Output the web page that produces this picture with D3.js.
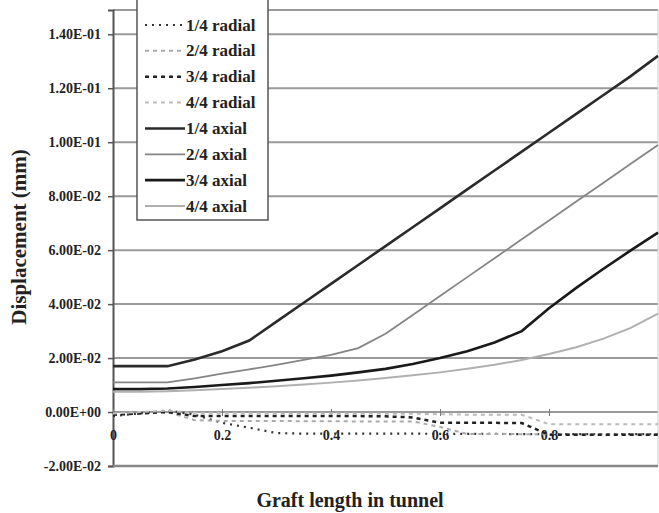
<!DOCTYPE html>
<html>
<head>
<meta charset="utf-8">
<script src="https://cdn.jsdelivr.net/npm/d3@7"></script>
<style>
body { margin: 0; background: #fff; }
text { font-family: "Liberation Serif", "Times New Roman", serif; font-weight: bold; fill: #222; }
</style>
</head>
<body>
<div id="chart"></div>
<script>

// graft length positions (fraction of tunnel)
var positions = [0, 0.05, 0.1, 0.15, 0.2, 0.25, 0.3, 0.35, 0.4, 0.45, 0.5,
                 0.55, 0.6, 0.65, 0.7, 0.75, 0.8, 0.85, 0.9, 0.95, 1.0];

var axial1 = [0.017, 0.017, 0.017, 0.0195, 0.0225, 0.0265, 0.0335, 0.0405, 0.0475, 0.0545, 0.0615,
              0.0685, 0.0755, 0.0825, 0.0895, 0.0965, 0.1035, 0.1105, 0.1175, 0.1245, 0.132];
var axial2 = [0.011, 0.011, 0.011, 0.0125, 0.0142, 0.0158, 0.0175, 0.0193, 0.0212, 0.0237, 0.029,
              0.036, 0.043, 0.05, 0.057, 0.064, 0.071, 0.078, 0.085, 0.092, 0.099];
var axial3 = [0.0085, 0.0085, 0.0087, 0.0093, 0.0100, 0.0107, 0.0116, 0.0125, 0.0135, 0.0147, 0.016,
              0.0178, 0.0200, 0.0225, 0.0258, 0.030, 0.0385, 0.046, 0.0531, 0.0599, 0.0665];
var axial4 = [0.0075, 0.0075, 0.0077, 0.0081, 0.0085, 0.009, 0.0096, 0.0102, 0.0109, 0.0117, 0.0126,
              0.0136, 0.0147, 0.016, 0.0175, 0.0193, 0.0215, 0.024, 0.0272, 0.0312, 0.0365];

var radial1 = [-0.0015, -0.0005, 0.0006, -0.001, -0.004, -0.0058, -0.0078, -0.008, -0.008, -0.008, -0.008,
               -0.008, -0.0081, -0.0081, -0.0081, -0.0082, -0.0082, -0.0082, -0.0082, -0.0082, -0.0082];
var radial2 = [-0.001, -0.0005, 0, -0.003, -0.0033, -0.0033, -0.0033, -0.0034, -0.0034, -0.0035, -0.0035,
               -0.0035, -0.0055, -0.0081, -0.0081, -0.0082, -0.0082, -0.0082, -0.0082, -0.0082, -0.0082];
var radial3 = [-0.001, -0.0005, 0, -0.0015, -0.0015, -0.0015, -0.0015, -0.0015, -0.0015, -0.0015, -0.0016,
               -0.002, -0.004, -0.004, -0.004, -0.0041, -0.0084, -0.0084, -0.0084, -0.0084, -0.0084];
var radial4 = [-0.0005, 0, 0.0005, -0.0003, -0.0004, -0.0004, -0.0005, -0.0005, -0.0005, -0.0005, -0.0006,
               -0.0006, -0.0008, -0.001, -0.001, -0.001, -0.0045, -0.0045, -0.0045, -0.0045, -0.0045];

var seriesNames = ["1/4 radial", "2/4 radial", "3/4 radial", "4/4 radial",
                   "1/4 axial", "2/4 axial", "3/4 axial", "4/4 axial"];

var yTicks = [-0.02, 0, 0.02, 0.04, 0.06, 0.08, 0.10, 0.12, 0.14];
var yTickLabels = ["-2.00E-02", "0.00E+00", "2.00E-02", "4.00E-02", "6.00E-02",
                   "8.00E-02", "1.00E-01", "1.20E-01", "1.40E-01"];
var xTicks = [0, 0.2, 0.4, 0.6, 0.8];
var xTickLabels = ["0", "0.2", "0.4", "0.6", "0.8"];

var seriesValues = [radial1, radial2, radial3, radial4, axial1, axial2, axial3, axial4];
var seriesStyle = [
  { color: "#333", width: 2.2, dash: "2,5" },
  { color: "#aaa", width: 2,   dash: "4,4" },
  { color: "#222", width: 2.5, dash: "4,4" },
  { color: "#bbb", width: 2,   dash: "4,4" },
  { color: "#2a2a2a", width: 2.6, dash: null },
  { color: "#858585", width: 1.8, dash: null },
  { color: "#1a1a1a", width: 2.6, dash: null },
  { color: "#b0b0b0", width: 2,   dash: null }
];

var width = 659, height = 513;
var plotLeft = 113, plotRight = 658, plotTop = 10, plotBottom = 466;

var svg = d3.select("#chart").append("svg")
    .attr("width", width)
    .attr("height", height);

var x = d3.scaleLinear().domain([0, 1]).range([plotLeft, plotRight]);
var y = d3.scaleLinear().domain([-0.02, 0.149]).range([plotBottom, plotTop]);

// gridlines
svg.append("g").selectAll("line")
    .data(yTicks)
  .enter().append("line")
    .attr("x1", plotLeft).attr("x2", plotRight)
    .attr("y1", function(d) { return y(d) }).attr("y2", function(d) { return y(d) })
    .attr("stroke", "#9a9a9a")
    .attr("stroke-width", 2);

// frame
svg.append("line").attr("x1", plotLeft).attr("x2", plotRight).attr("y1", plotTop).attr("y2", plotTop)
    .attr("stroke", "#999").attr("stroke-width", 2);
svg.append("line").attr("x1", plotRight).attr("x2", plotRight).attr("y1", plotTop).attr("y2", plotBottom)
    .attr("stroke", "#ccc").attr("stroke-width", 1);

// y axis with excel style labels
var yAxis = d3.axisLeft(y)
    .tickValues(yTicks)
    .tickSize(5)
    .tickFormat(function(d, i) { return yTickLabels[i] });

var gy = svg.append("g")
    .attr("transform", "translate(" + plotLeft + ",0)")
    .call(yAxis);
gy.select(".domain").attr("stroke", "#555").attr("stroke-width", 2);
gy.selectAll(".tick line").attr("stroke", "#555").attr("stroke-width", 1.5);
gy.selectAll(".tick text")
    .attr("x", -12)
    .style("font-family", "Liberation Serif, serif")
    .style("font-weight", "bold")
    .style("font-size", "14px")
    .attr("fill", "#333");

// x axis sits at zero
var xAxis = d3.axisBottom(x)
    .tickValues(xTicks)
    .tickSize(4)
    .tickFormat(function(d, i) { return xTickLabels[i] });

var gx = svg.append("g")
    .attr("transform", "translate(0," + y(0) + ")")
    .call(xAxis);
gx.select(".domain").remove();
gx.selectAll(".tick line").attr("stroke", "#777").attr("y1", -3);
gx.selectAll(".tick text")
    .attr("y", 18)
    .style("font-family", "Liberation Serif, serif")
    .style("font-weight", "bold")
    .style("font-size", "14px")
    .attr("fill", "#333");

// bottom line
svg.append("line").attr("x1", plotLeft).attr("x2", plotRight).attr("y1", plotBottom).attr("y2", plotBottom)
    .attr("stroke", "#888").attr("stroke-width", 2.5);

// series
var line = d3.line()
    .x(function(d, i) { return x(positions[i]) })
    .y(function(d) { return y(d) });

seriesValues.forEach(function(vals, i) {
  var st = seriesStyle[i];
  svg.append("path")
      .datum(vals)
      .attr("d", line)
      .attr("fill", "none")
      .attr("stroke", st.color)
      .attr("stroke-width", st.width)
      .attr("stroke-dasharray", st.dash);
});

// legend
var legend = svg.append("g");
legend.append("rect")
    .attr("x", 137).attr("y", -2)
    .attr("width", 131).attr("height", 222)
    .attr("fill", "#fff")
    .attr("stroke", "#555")
    .attr("stroke-width", 1.5);

var rowY = d3.scalePoint().domain(d3.range(seriesNames.length)).range([25, 206]);

seriesNames.forEach(function(name, i) {
  var st = seriesStyle[i];
  legend.append("line")
      .attr("x1", 145).attr("x2", 185)
      .attr("y1", rowY(i)).attr("y2", rowY(i))
      .attr("stroke", st.color)
      .attr("stroke-width", st.width)
      .attr("stroke-dasharray", st.dash);
  legend.append("text")
      .attr("x", 186)
      .attr("y", rowY(i) + 5.5)
      .style("font-size", "17px")
      .text(name);
});

// axis titles
svg.append("text")
    .attr("transform", "translate(26,237) rotate(-90)")
    .attr("text-anchor", "middle")
    .style("font-size", "21px")
    .text("Displacement (mm)");

svg.append("text")
    .attr("x", 350)
    .attr("y", 507)
    .attr("text-anchor", "middle")
    .style("font-size", "20px")
    .text("Graft length in tunnel");

</script>
</body>
</html>
